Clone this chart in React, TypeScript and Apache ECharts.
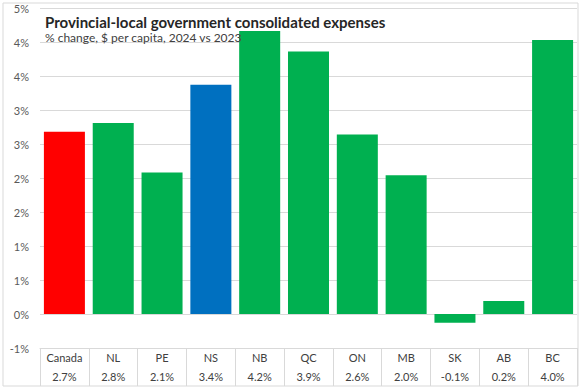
import React, { useEffect, useRef } from "react";
import * as echarts from "echarts";

const categories = ["Canada", "NL", "PE", "NS", "NB", "QC", "ON", "MB", "SK", "AB", "BC"];
const values = [2.68, 2.81, 2.08, 3.37, 4.16, 3.86, 2.64, 2.04, -0.13, 0.19, 4.03];
const barColors = ["#ff0000", "#00b050", "#00b050", "#0070c0", "#00b050", "#00b050", "#00b050", "#00b050", "#00b050", "#00b050", "#00b050"];
const titleText = "Provincial-local government consolidated expenses";
const subtitleText = "% change, $ per capita, 2024 vs 2023";

const FONT = "Lato, 'Noto Sans', sans-serif";

function roundPct(v: number): string {
  const s = v < 0 ? -1 : 1;
  const r = Math.round(Math.abs(v) + 1e-9) * s;
  return (r === 0 ? 0 : r) + "%";
}

export default function App() {
  const ref = useRef<HTMLDivElement>(null);
  useEffect(() => {
    if (!ref.current) return;
    const chart = echarts.init(ref.current, null, { renderer: "svg" });
    chart.setOption({
      animation: false,
      backgroundColor: "#ffffff",
      grid: { left: 40, right: 3, top: 8, bottom: 39, containLabel: false },
      title: [
        {
          text: titleText,
          left: 40,
          top: 9,
          textStyle: { fontFamily: FONT, fontSize: 15, fontWeight: "bold", color: "#262626" },
        },
        {
          text: subtitleText,
          left: 40,
          top: 26,
          textStyle: { fontFamily: FONT, fontSize: 12, fontWeight: "normal", color: "#404040" },
        },
      ],
      xAxis: {
        type: "category",
        data: categories,
        axisLine: { show: true, onZero: false, lineStyle: { color: "#d9d9d9", width: 1 } },
        axisTick: { show: true, length: 38, lineStyle: { color: "#d9d9d9", width: 1 } },
        axisLabel: {
          interval: 0,
          margin: 0,
          lineHeight: 19,
          fontFamily: FONT,
          fontSize: 11,
          color: "#404040",
          formatter: (v: string, i: number) => `${v}\n${values[i].toFixed(1)}%`,
        },
      },
      yAxis: {
        type: "value",
        min: -0.5,
        max: 4.5,
        interval: 0.5,
        axisLine: { show: false },
        axisTick: { show: false },
        splitLine: { lineStyle: { color: "#d9d9d9", width: 1 } },
        axisLabel: {
          margin: 11,
          fontFamily: FONT,
          fontSize: 11,
          color: "#595959",
          formatter: (v: number) => roundPct(v),
        },
      },
      series: [
        {
          type: "bar",
          data: values.map((v, i) => ({ value: v, itemStyle: { color: barColors[i] } })),
          barCategoryGap: "16%",
        },
      ],
      graphic: [
        {
          type: "rect",
          shape: { x: 3, y: 3, width: 575, height: 383 },
          style: { fill: "none", stroke: "#d9d9d9", lineWidth: 1 },
          silent: true,
          z: 100,
        },
      ],
    });
    return () => chart.dispose();
  }, []);
  return (
    <div
      ref={ref}
      style={{ position: "fixed", left: 0, top: 0, width: 580, height: 387 }}
    />
  );
}
